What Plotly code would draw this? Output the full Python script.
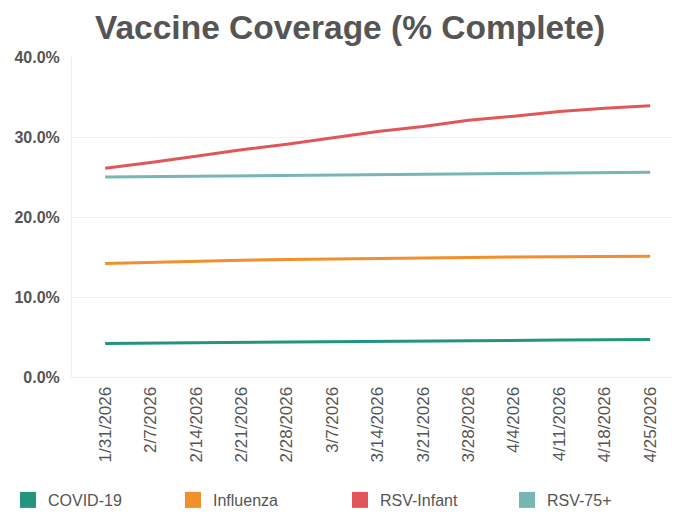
import plotly.graph_objects as go

dates = ["1/31/2026", "2/7/2026", "2/14/2026", "2/21/2026", "2/28/2026", "3/7/2026",
         "3/14/2026", "3/21/2026", "3/28/2026", "4/4/2026", "4/11/2026", "4/18/2026", "4/25/2026"]

covid = [4.2, 4.25, 4.3, 4.35, 4.4, 4.45, 4.5, 4.52, 4.55, 4.6, 4.62, 4.65, 4.7]
influenza = [14.2, 14.35, 14.5, 14.6, 14.7, 14.78, 14.85, 14.9, 14.95, 15.0, 15.05, 15.08, 15.1]
rsv_infant = [26.1, 26.8, 27.6, 28.4, 29.1, 29.9, 30.7, 31.3, 32.1, 32.6, 33.2, 33.6, 33.9]
rsv_75 = [25.0, 25.05, 25.1, 25.15, 25.2, 25.25, 25.3, 25.35, 25.4, 25.45, 25.5, 25.55, 25.6]

y_ticks = [0, 10, 20, 30, 40]
y_labels = ["0.0%", "10.0%", "20.0%", "30.0%", "40.0%"]

names = ["COVID-19", "Influenza", "RSV-Infant", "RSV-75+"]
colors = ["#23957f", "#f28e2b", "#e15759", "#76b7b2"]
series = [covid, influenza, rsv_infant, rsv_75]

legend_ids = ["legend", "legend2", "legend3", "legend4"]
legend_x = [0, 165, 332, 499]  # px, container coords

fig = go.Figure()
for n, c, s in zip(names, colors, series):
    fig.add_trace(go.Scatter(x=dates, y=s, mode="lines", name=n,
                             line=dict(color=c, width=3), showlegend=False))
for n, c, lg in zip(names, colors, legend_ids):
    fig.add_trace(go.Scatter(x=[None], y=[None], mode="markers", name=n, legend=lg,
                             marker=dict(symbol="square", size=20, color=c)))

W, H = 680, 507  # page body has an 8px margin, so the figure is drawn 8px smaller

legend_layout = {}
for lg, lx in zip(legend_ids, legend_x):
    legend_layout[lg] = dict(orientation="h", xref="container", x=lx / W, xanchor="left",
                             yref="container", y=15 / H, yanchor="middle",
                             bgcolor="rgba(0,0,0,0)", font=dict(size=16, color="#555555"),
                             itemsizing="trace")

fig.update_layout(
    width=W, height=H,
    paper_bgcolor="white", plot_bgcolor="white",
    margin=dict(l=64, r=16, t=49, b=138, autoexpand=False),
    font=dict(family="Liberation Sans, Arial, sans-serif", color="#555555"),
    title=dict(text="<b>Vaccine Coverage (% Complete)</b>", x=0.503, xanchor="center",
               y=0.962, yanchor="middle", font=dict(size=33.5, color="#555555")),
    xaxis=dict(type="category", range=[-0.73, 12.48], tickangle=-90,
               tickfont=dict(size=17, color="#555555"), showgrid=False,
               showline=True, linecolor="#eeeeee", ticks="", automargin=False,
               ticklabelstandoff=2),
    yaxis=dict(range=[0, 40], tickvals=y_ticks,
               ticktext=["<b>" + t + "</b>" for t in y_labels],
               tickfont=dict(size=16, color="#555555"),
               showgrid=True, gridcolor="#f0f0f0", zeroline=False,
               showline=True, linecolor="#eeeeee", ticks="", automargin=False,
               ticklabelstandoff=8),
    **legend_layout,
)
fig.write_html("out.html")
